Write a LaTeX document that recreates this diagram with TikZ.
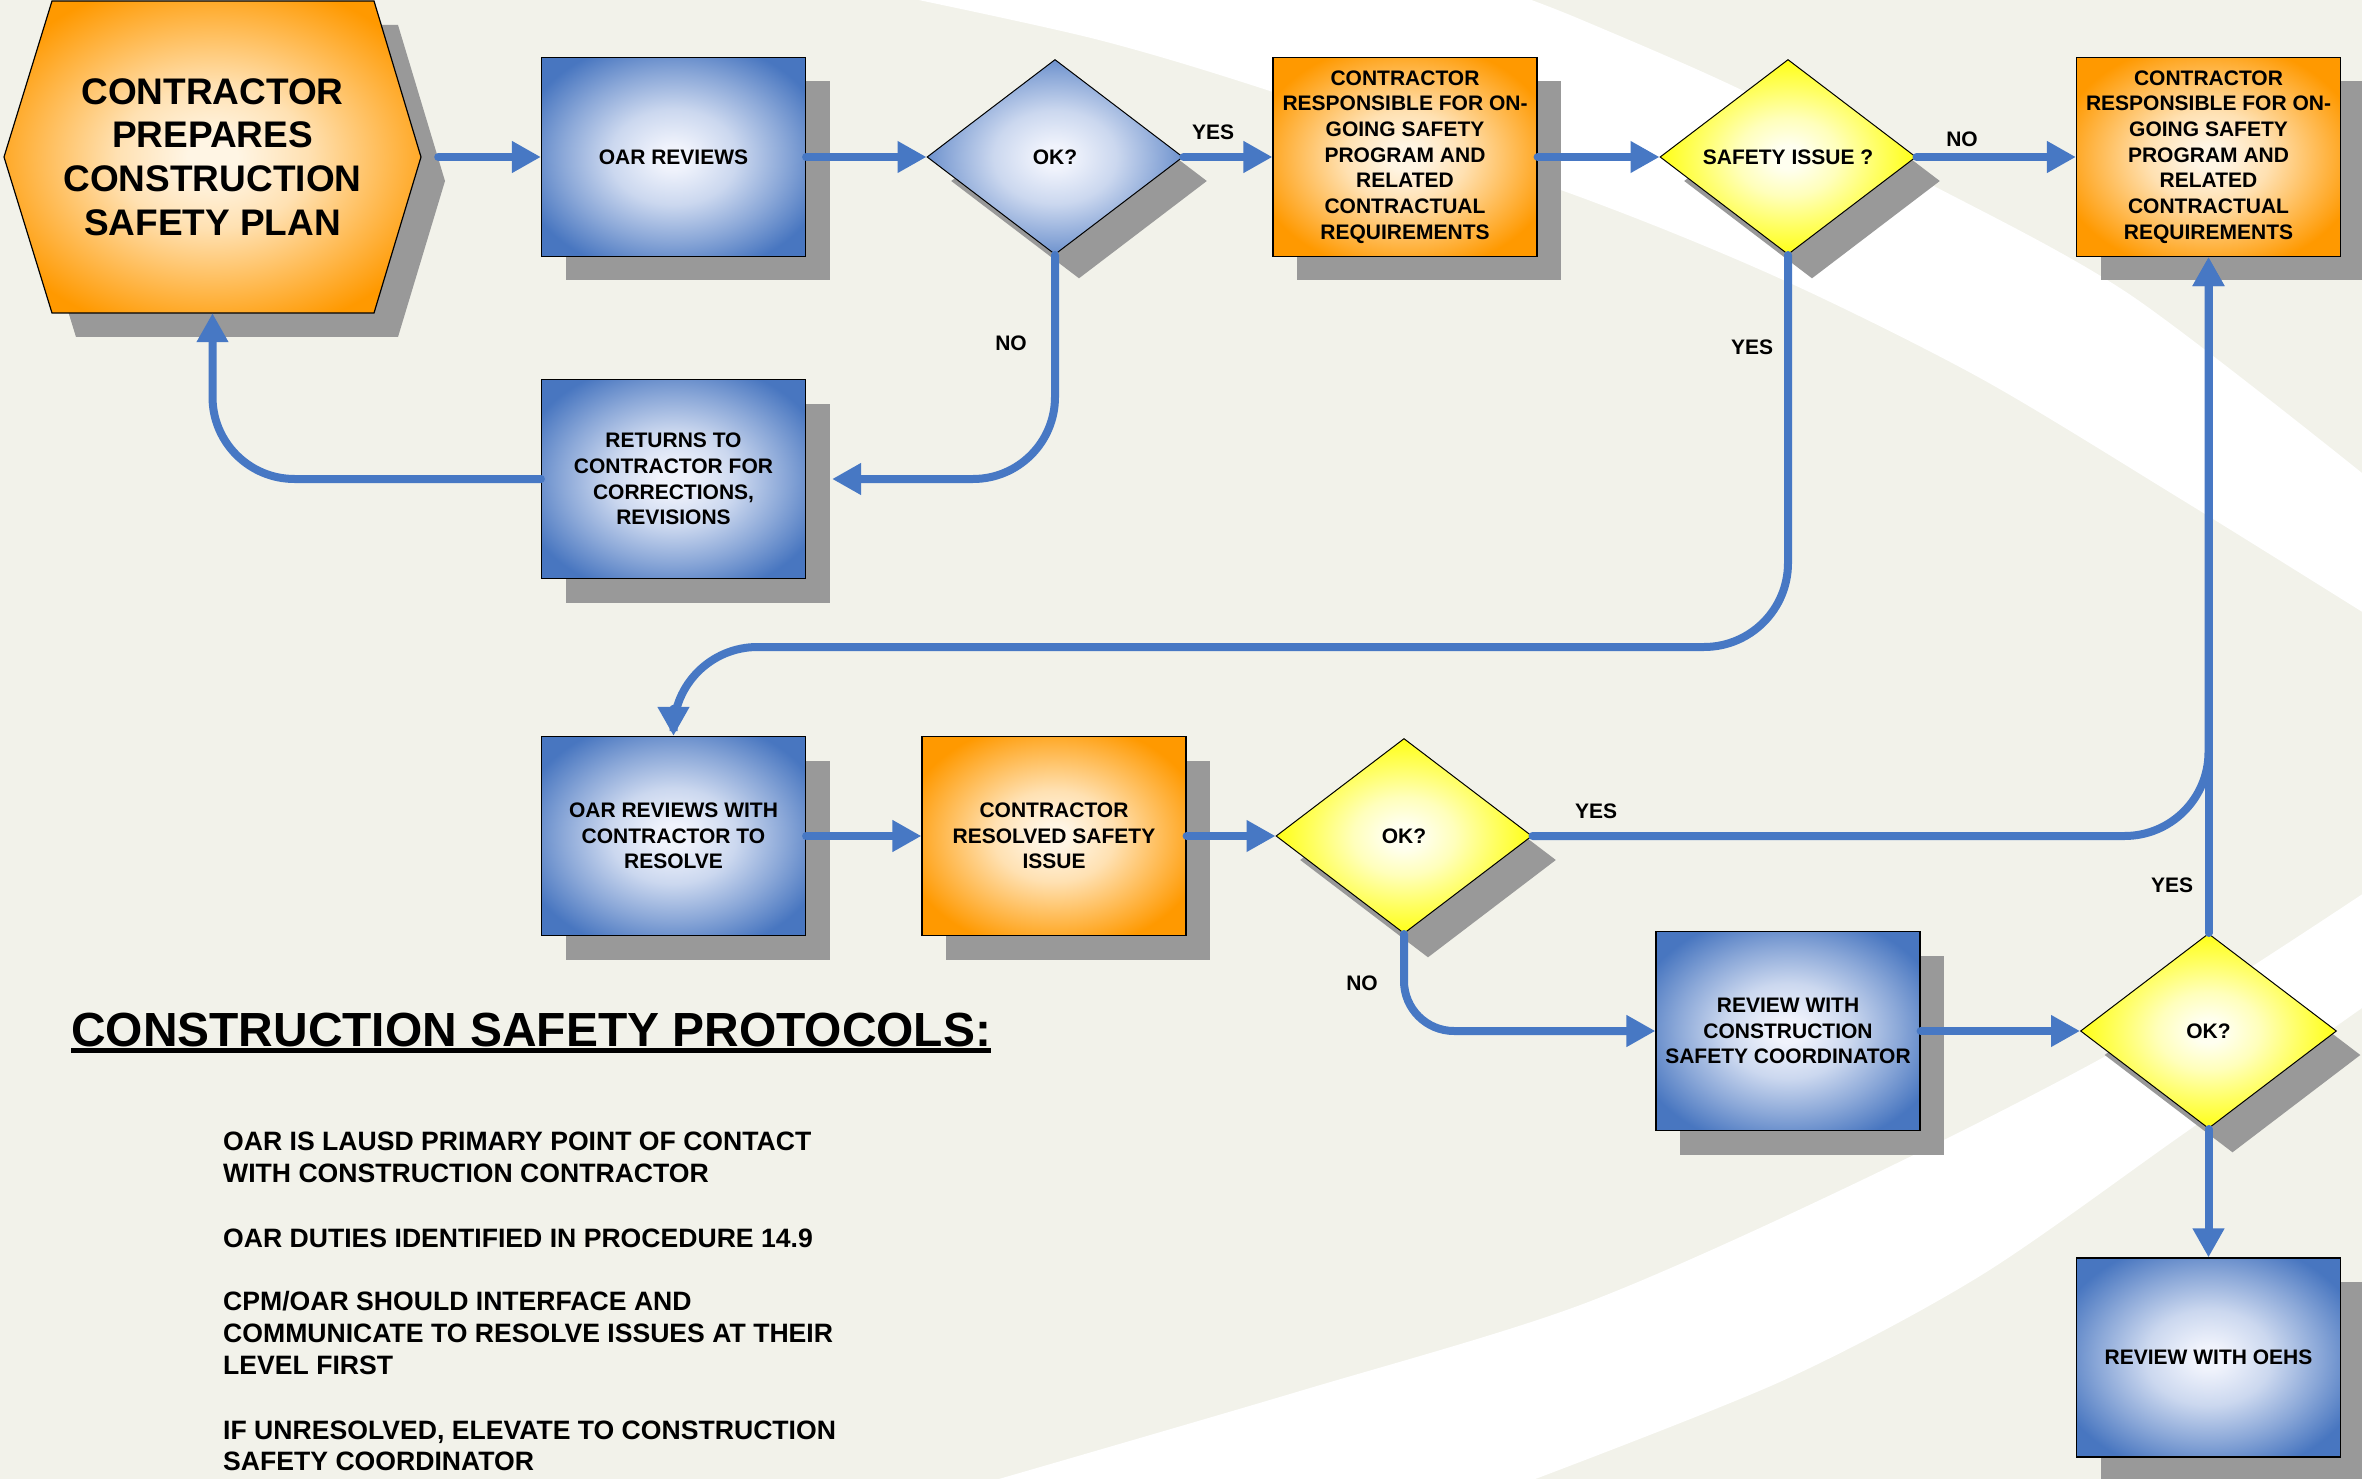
\documentclass[tikz,border=0pt]{standalone}
\usepackage{fontspec}
\setmainfont{Liberation Sans}
\usetikzlibrary{shapes.geometric,arrows.meta,shadows,calc}

\definecolor{cream}{RGB}{242,242,234}
\definecolor{bblue}{RGB}{72,118,192}
\definecolor{bcenter}{RGB}{240,243,252}
\definecolor{orng}{RGB}{255,153,0}
\definecolor{ocenter}{RGB}{255,245,228}
\definecolor{yel}{RGB}{255,255,0}
\definecolor{ycenter}{RGB}{255,255,240}
\definecolor{shadowgray}{RGB}{153,153,153}
\definecolor{arrowblue}{RGB}{71,120,196}
\colorlet{bmidA}{bblue!22!bcenter}
\colorlet{bmidB}{bblue!60!bcenter}
\colorlet{omidA}{orng!22!ocenter}
\colorlet{omidB}{orng!60!ocenter}
\colorlet{ymidA}{yel!22!ycenter}
\colorlet{ymidB}{yel!60!ycenter}

\pgfdeclareradialshading{bluerad}{\pgfpoint{0bp}{0bp}}{color(0bp)=(bcenter); color(3bp)=(bcenter); color(12bp)=(bmidA); color(21bp)=(bmidB); color(30bp)=(bblue); color(50bp)=(bblue)}
\pgfdeclareradialshading{orangerad}{\pgfpoint{0bp}{0bp}}{color(0bp)=(ocenter); color(3bp)=(ocenter); color(11.5bp)=(omidA); color(20bp)=(omidB); color(29bp)=(orng); color(50bp)=(orng)}
\pgfdeclareradialshading{yellowrad}{\pgfpoint{0bp}{0bp}}{color(0bp)=(ycenter); color(3bp)=(ycenter); color(10bp)=(ymidA); color(18bp)=(ymidB); color(27bp)=(yel); color(50bp)=(yel)}

\newcommand{\bxfont}{\fontsize{21pt}{25.7pt}\selectfont\bfseries}
\newcommand{\hxfont}{\fontsize{37pt}{43.7pt}\selectfont\bfseries}
\newcommand{\txfont}{\fontsize{26.6pt}{32pt}\selectfont\bfseries}
\newcommand{\ttlfont}{\fontsize{47.9pt}{56pt}\selectfont\bfseries}

\begin{document}
\begin{tikzpicture}[x=1pt,y=-1pt,
  shadowed/.style={general shadow={shadow xshift=24pt, shadow yshift=-24pt, fill=shadowgray}},
  stepbox/.style={rectangle, draw=black, line width=1.2pt, minimum width=264pt, minimum height=199pt,
    inner sep=0pt, align=center, font=\bxfont, shadowed},
  bluebox/.style={stepbox, shading=bluerad},
  orangebox/.style={stepbox, shading=orangerad},
  decision/.style={diamond, draw=black, line width=1pt, minimum width=256pt, minimum height=195pt,
    inner sep=0pt, align=center, font=\bxfont, shadowed},
  bluedia/.style={decision, shading=bluerad},
  yellowdia/.style={decision, shading=yellowrad},
  conn/.style={draw=arrowblue, line width=8pt, line cap=round, -{Triangle[length=29pt,width=30pt]}},
  lbl/.style={font=\bxfont, inner sep=0pt},
  body/.style={font=\txfont, inner sep=0pt, anchor=base west}
]
\useasboundingbox (0,0) rectangle (2362,1479);
\clip (0,0) rectangle (2362,1479);

% background
\fill[cream] (0,0) rectangle (2362,1479);
\fill[white] plot[smooth] coordinates {(909,-2) (1099,40) (1273,92) (1580,197) (1781,279) (1980,378) (2179,498) (2364,613)}
  -- (2364,472) -- plot[smooth] coordinates {(2362,473) (2129,294) (1930,184) (1731,85) (1582,20) (1526,-2)} -- cycle;
\fill[white] plot[smooth] coordinates {(992,1481) (1300,1391) (1583,1304) (1860,1181) (2129,1043) (2364,893)}
  -- (2364,1006) -- plot[smooth] coordinates {(2362,1008) (2179,1137) (1980,1276) (1782,1381) (1530,1481)} -- cycle;

% hexagon
\fill[shadowgray] (28,181) -- (76,25) -- (398,25) -- (445,181) -- (398,337) -- (76,337) -- cycle;
\draw[black, line width=1.2pt, shading=orangerad] (4,157) -- (52,1) -- (374,1) -- (421,157) -- (374,313) -- (52,313) -- cycle;
\node[minimum width=417pt, minimum height=312pt, inner sep=0pt, align=center, font=\hxfont] (hex) at (212.5,157)
  {CONTRACTOR\\PREPARES\\CONSTRUCTION\\SAFETY PLAN};

% nodes
\node[bluebox] (oar) at (673.5,157) {OAR REVIEWS};
\node[bluedia] (ok1) at (1055,157) {OK?};
\node[orangebox] (box1) at (1405,157) {CONTRACTOR\\RESPONSIBLE FOR ON-\\GOING SAFETY\\PROGRAM AND\\RELATED\\CONTRACTUAL\\REQUIREMENTS};
\node[yellowdia] (safe) at (1788,157) {SAFETY ISSUE ?};
\node[orangebox] (box2) at (2208.5,157) {CONTRACTOR\\RESPONSIBLE FOR ON-\\GOING SAFETY\\PROGRAM AND\\RELATED\\CONTRACTUAL\\REQUIREMENTS};
\node[bluebox] (ret) at (673.5,479) {RETURNS TO\\CONTRACTOR FOR\\CORRECTIONS,\\REVISIONS};
\node[bluebox] (oarw) at (673.5,836) {OAR REVIEWS WITH\\CONTRACTOR TO\\RESOLVE};
\node[orangebox] (res) at (1054,836) {CONTRACTOR\\RESOLVED SAFETY\\ISSUE};
\node[yellowdia] (ok2) at (1404,836) {OK?};
\node[bluebox] (csc) at (1788,1031) {REVIEW WITH\\CONSTRUCTION\\SAFETY COORDINATOR};
\node[yellowdia] (ok3) at (2208.5,1031) {OK?};
\node[bluebox] (oehs) at (2208.5,1357.5) {REVIEW WITH OEHS};

\coordinate (j1) at (673.5,647);

% connectors
\draw[conn, shorten <=17pt] (hex.east) -- (oar.west);
\draw[conn] (oar.east) -- (ok1.west);
\draw[conn] (ok1.east) -- (box1.west);
\draw[conn] (box1.east) -- (safe.west);
\draw[conn] (safe.east) -- (box2.west);
\draw[conn, rounded corners=82pt, shorten >=26pt] (ok1.south) |- (ret.east);
\draw[conn, rounded corners=82pt] (ret.west) -| (hex.south);
\draw[conn] (safe.south) [rounded corners=84pt] |- (j1) [rounded corners=58pt] -- (oarw.north);
\draw[conn] (oarw.east) -- (res.west);
\draw[conn] (res.east) -- (ok2.west);
\draw[conn, rounded corners=84pt] (ok2.east) -| (box2.south);
\draw[conn] (ok3.north) -- (box2.south);
\draw[conn, rounded corners=50pt] (ok2.south) |- (csc.west);
\draw[conn] (csc.east) -- (ok3.west);
\draw[conn] (ok3.south) -- (oehs.north);

% labels
\node[lbl] (y1) at (1213,132) {YES};
\node[lbl] (n1) at (1011,343) {NO};
\node[lbl] (n2) at (1962,139) {NO};
\node[lbl] (y2) at (1752,347) {YES};
\node[lbl] (y3) at (1596,811) {YES};
\node[lbl] (y4) at (2172,885) {YES};
\node[lbl] (n3) at (1362,983) {NO};

% protocols
\node[font=\ttlfont, inner sep=0pt, anchor=base west] (ttl) at (71,1046) {CONSTRUCTION SAFETY PROTOCOLS:};
\draw[line width=4.5pt] ([yshift=-4.5pt]ttl.base west) -- ([yshift=-4.5pt]ttl.base east);
\node[body] (l1) at (223,1150) {OAR IS LAUSD PRIMARY POINT OF CONTACT};
\node[body] (l2) at (223,1182) {WITH CONSTRUCTION CONTRACTOR};
\node[body] (l3) at (223,1247) {OAR DUTIES IDENTIFIED IN PROCEDURE 14.9};
\node[body] (l4) at (223,1310) {CPM/OAR SHOULD INTERFACE AND};
\node[body] (l5) at (223,1342) {COMMUNICATE TO RESOLVE ISSUES AT THEIR};
\node[body] (l6) at (223,1374) {LEVEL FIRST};
\node[body] (l7) at (223,1439) {IF UNRESOLVED, ELEVATE TO CONSTRUCTION};
\node[body] (l8) at (223,1470) {SAFETY COORDINATOR};
\end{tikzpicture}
\end{document}
